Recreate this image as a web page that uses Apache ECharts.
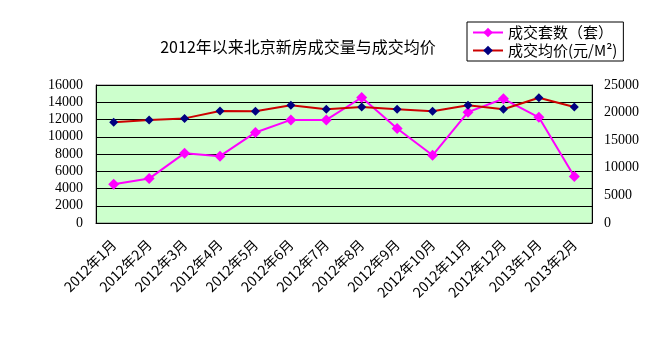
<!DOCTYPE html>
<html><head><meta charset="utf-8">
<script src="https://cdn.jsdelivr.net/npm/echarts@6/dist/echarts.min.js"></script>
<style>html,body{margin:0;padding:0;background:#fff}#c{width:660px;height:339px}</style>
</head><body><div id="c"></div>
<script>
const categories = ['2012年1月','2012年2月','2012年3月','2012年4月','2012年5月','2012年6月','2012年7月','2012年8月','2012年9月','2012年10月','2012年11月','2012年12月','2013年1月','2013年2月'];
const volume = [4500, 5150, 8100, 7750, 10500, 11950, 11950, 14550, 10950, 7850, 12850, 14400, 12250, 5400];
const price = [18250, 18650, 18950, 20300, 20250, 21350, 20600, 21000, 20600, 20250, 21350, 20600, 22700, 21000];
const leftTicks = {min: 0, max: 16000, interval: 2000};
const rightTicks = {min: 0, max: 25000, interval: 5000};
const names = ['成交套数（套）', '成交均价(元/M²)'];
const FONT = "Liberation Serif";
const CJK = "Noto Sans CJK SC";
const chart = echarts.init(document.getElementById('c'), null, {renderer: 'canvas'});
chart.setOption({
  animation: false,
  backgroundColor: '#fff',
  title: {
    text: '2012年以来北京新房成交量与成交均价',
    left: 293, top: 34, textAlign: 'center',
    textStyle: {fontFamily: CJK, fontSize: 16, fontWeight: 'normal', color: '#000'}
  },
  legend: {
    orient: 'vertical', left: 467, top: 22,
    padding: [3, 6, 3, 5], itemGap: 3, itemWidth: 30, itemHeight: 12,
    borderColor: '#000', borderWidth: 1,
    textStyle: {fontFamily: CJK, fontSize: 15, color: '#000'},
    data: names
  },
  grid: {left: 96, right: 68, top: 85, bottom: 116, show: true, backgroundColor: '#CCFFCC', borderColor: '#808080', borderWidth: 1},
  xAxis: {
    type: 'category', data: categories, boundaryGap: true,
    axisLine: {lineStyle: {color: '#000'}},
    axisTick: {inside: true, length: 4, lineStyle: {color: '#000'}},
    axisLabel: {rotate: 45, interval: 0, fontFamily: CJK, fontSize: 14, color: '#000', margin: 19}
  },
  yAxis: [
    {type: 'value', min: leftTicks.min, max: leftTicks.max, interval: leftTicks.interval,
     axisLine: {show: true, lineStyle: {color: '#000'}}, axisTick: {show: false},
     splitLine: {lineStyle: {color: '#000', width: 1}},
     axisLabel: {fontFamily: FONT, fontSize: 14, color: '#000', margin: 13, formatter: v => String(v)}},
    {type: 'value', min: rightTicks.min, max: rightTicks.max, interval: rightTicks.interval,
     axisLine: {show: true, lineStyle: {color: '#000'}}, axisTick: {show: false},
     splitLine: {show: false},
     axisLabel: {fontFamily: FONT, fontSize: 14, color: '#000', margin: 12, formatter: v => String(v)}}
  ],
  series: [
    {name: names[0], type: 'line', data: volume, yAxisIndex: 0,
     symbol: 'diamond', symbolSize: 11,
     lineStyle: {color: '#FF00FF', width: 2}, itemStyle: {color: '#FF00FF'}},
    {name: names[1], type: 'line', data: price, yAxisIndex: 1,
     symbol: 'diamond', symbolSize: 9,
     lineStyle: {color: '#CC0000', width: 2}, itemStyle: {color: '#000080'}}
  ]
});
</script></body></html>
